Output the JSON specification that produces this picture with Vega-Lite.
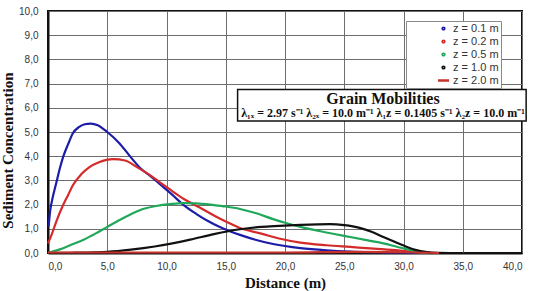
{
  "$schema": "https://vega.github.io/schema/vega-lite/v6.json",
  "width": 474,
  "height": 242,
  "autosize": "none",
  "padding": {"left": 48, "top": 11, "right": 11, "bottom": 38},
  "background": "white",
  "config": {
    "locale": {"number": {"decimal": ",", "thousands": ".", "grouping": [3], "currency": ["", " €"]}},
    "view": {"stroke": "#111", "strokeWidth": 2},
    "axis": {
      "labelFont": "Liberation Sans",
      "labelFontSize": 10,
      "labelColor": "#333",
      "titleFont": "Liberation Serif",
      "titleFontSize": 15,
      "titleFontWeight": "bold",
      "titleColor": "#111",
      "gridColor": "#6e6e6e",
      "gridOpacity": 1,
      "gridWidth": 1,
      "tickColor": "transparent",
      "domainColor": "#111",
      "domainWidth": 2
    }
  },
  "resolve": {"scale": {"x": "independent", "y": "independent"}, "axis": {"x": "independent", "y": "independent"}},
  "datasets": {
    "curves": [
      {"series": "z = 0.1 m", "x": 0.05, "y": 1.1},
      {"series": "z = 0.1 m", "x": 0.2, "y": 1.8},
      {"series": "z = 0.1 m", "x": 0.4, "y": 2.3},
      {"series": "z = 0.1 m", "x": 0.7, "y": 2.9},
      {"series": "z = 0.1 m", "x": 1.0, "y": 3.5},
      {"series": "z = 0.1 m", "x": 1.3, "y": 4.0},
      {"series": "z = 0.1 m", "x": 1.7, "y": 4.5},
      {"series": "z = 0.1 m", "x": 2.1, "y": 4.95},
      {"series": "z = 0.1 m", "x": 2.6, "y": 5.2},
      {"series": "z = 0.1 m", "x": 3.1, "y": 5.32},
      {"series": "z = 0.1 m", "x": 3.6, "y": 5.35},
      {"series": "z = 0.1 m", "x": 4.2, "y": 5.28},
      {"series": "z = 0.1 m", "x": 5.0, "y": 5.0},
      {"series": "z = 0.1 m", "x": 6.0, "y": 4.55},
      {"series": "z = 0.1 m", "x": 7.0, "y": 3.95},
      {"series": "z = 0.1 m", "x": 7.8, "y": 3.5},
      {"series": "z = 0.1 m", "x": 8.6, "y": 3.2},
      {"series": "z = 0.1 m", "x": 9.5, "y": 2.82},
      {"series": "z = 0.1 m", "x": 10.5, "y": 2.4},
      {"series": "z = 0.1 m", "x": 11.4, "y": 2.0},
      {"series": "z = 0.1 m", "x": 12.5, "y": 1.62},
      {"series": "z = 0.1 m", "x": 13.5, "y": 1.32},
      {"series": "z = 0.1 m", "x": 14.5, "y": 1.07},
      {"series": "z = 0.1 m", "x": 15.5, "y": 0.87},
      {"series": "z = 0.1 m", "x": 16.2, "y": 0.75},
      {"series": "z = 0.1 m", "x": 17.5, "y": 0.55},
      {"series": "z = 0.1 m", "x": 19.0, "y": 0.37},
      {"series": "z = 0.1 m", "x": 21.3, "y": 0.2},
      {"series": "z = 0.1 m", "x": 23.5, "y": 0.11},
      {"series": "z = 0.1 m", "x": 25.5, "y": 0.06},
      {"series": "z = 0.1 m", "x": 28.0, "y": 0.03},
      {"series": "z = 0.1 m", "x": 30.0, "y": 0.01},
      {"series": "z = 0.1 m", "x": 32.0, "y": 0.0},
      {"series": "z = 0.2 m", "x": 0.0, "y": 0.4},
      {"series": "z = 0.2 m", "x": 0.3, "y": 0.75},
      {"series": "z = 0.2 m", "x": 0.7, "y": 1.3},
      {"series": "z = 0.2 m", "x": 1.2, "y": 1.9},
      {"series": "z = 0.2 m", "x": 1.7, "y": 2.4},
      {"series": "z = 0.2 m", "x": 2.1, "y": 2.8},
      {"series": "z = 0.2 m", "x": 2.8, "y": 3.25},
      {"series": "z = 0.2 m", "x": 3.5, "y": 3.55},
      {"series": "z = 0.2 m", "x": 4.3, "y": 3.75},
      {"series": "z = 0.2 m", "x": 5.5, "y": 3.88},
      {"series": "z = 0.2 m", "x": 6.5, "y": 3.82},
      {"series": "z = 0.2 m", "x": 7.5, "y": 3.55},
      {"series": "z = 0.2 m", "x": 8.6, "y": 3.22},
      {"series": "z = 0.2 m", "x": 9.5, "y": 2.9},
      {"series": "z = 0.2 m", "x": 10.5, "y": 2.55},
      {"series": "z = 0.2 m", "x": 11.5, "y": 2.22},
      {"series": "z = 0.2 m", "x": 12.8, "y": 1.88},
      {"series": "z = 0.2 m", "x": 14.0, "y": 1.55},
      {"series": "z = 0.2 m", "x": 15.0, "y": 1.3},
      {"series": "z = 0.2 m", "x": 16.2, "y": 1.03},
      {"series": "z = 0.2 m", "x": 18.0, "y": 0.8},
      {"series": "z = 0.2 m", "x": 19.5, "y": 0.6},
      {"series": "z = 0.2 m", "x": 21.3, "y": 0.43},
      {"series": "z = 0.2 m", "x": 23.5, "y": 0.32},
      {"series": "z = 0.2 m", "x": 25.5, "y": 0.25},
      {"series": "z = 0.2 m", "x": 27.5, "y": 0.18},
      {"series": "z = 0.2 m", "x": 29.7, "y": 0.1},
      {"series": "z = 0.2 m", "x": 31.0, "y": 0.04},
      {"series": "z = 0.2 m", "x": 32.0, "y": 0.0},
      {"series": "z = 0.5 m", "x": 0.0, "y": 0.0},
      {"series": "z = 0.5 m", "x": 1.0, "y": 0.15},
      {"series": "z = 0.5 m", "x": 2.0, "y": 0.35},
      {"series": "z = 0.5 m", "x": 3.0, "y": 0.55},
      {"series": "z = 0.5 m", "x": 4.0, "y": 0.8},
      {"series": "z = 0.5 m", "x": 5.0, "y": 1.08},
      {"series": "z = 0.5 m", "x": 6.0, "y": 1.35},
      {"series": "z = 0.5 m", "x": 7.0, "y": 1.6},
      {"series": "z = 0.5 m", "x": 7.8, "y": 1.78},
      {"series": "z = 0.5 m", "x": 9.0, "y": 1.93},
      {"series": "z = 0.5 m", "x": 10.5, "y": 2.03},
      {"series": "z = 0.5 m", "x": 11.5, "y": 2.06},
      {"series": "z = 0.5 m", "x": 12.5, "y": 2.05},
      {"series": "z = 0.5 m", "x": 14.0, "y": 1.98},
      {"series": "z = 0.5 m", "x": 15.0, "y": 1.92},
      {"series": "z = 0.5 m", "x": 16.2, "y": 1.82},
      {"series": "z = 0.5 m", "x": 17.5, "y": 1.65},
      {"series": "z = 0.5 m", "x": 19.0, "y": 1.4},
      {"series": "z = 0.5 m", "x": 20.0, "y": 1.25},
      {"series": "z = 0.5 m", "x": 21.3, "y": 1.08},
      {"series": "z = 0.5 m", "x": 23.0, "y": 0.9},
      {"series": "z = 0.5 m", "x": 25.5, "y": 0.66},
      {"series": "z = 0.5 m", "x": 27.0, "y": 0.52},
      {"series": "z = 0.5 m", "x": 28.3, "y": 0.4},
      {"series": "z = 0.5 m", "x": 29.5, "y": 0.25},
      {"series": "z = 0.5 m", "x": 30.6, "y": 0.12},
      {"series": "z = 0.5 m", "x": 31.6, "y": 0.02},
      {"series": "z = 0.5 m", "x": 32.0, "y": 0.0},
      {"series": "z = 1.0 m", "x": 0.0, "y": 0.0},
      {"series": "z = 1.0 m", "x": 2.0, "y": 0.01},
      {"series": "z = 1.0 m", "x": 4.0, "y": 0.03},
      {"series": "z = 1.0 m", "x": 5.0, "y": 0.05},
      {"series": "z = 1.0 m", "x": 7.0, "y": 0.14},
      {"series": "z = 1.0 m", "x": 9.0, "y": 0.27},
      {"series": "z = 1.0 m", "x": 10.5, "y": 0.4},
      {"series": "z = 1.0 m", "x": 12.0, "y": 0.55},
      {"series": "z = 1.0 m", "x": 14.0, "y": 0.78},
      {"series": "z = 1.0 m", "x": 16.2, "y": 0.98},
      {"series": "z = 1.0 m", "x": 18.0, "y": 1.08},
      {"series": "z = 1.0 m", "x": 19.5, "y": 1.12},
      {"series": "z = 1.0 m", "x": 21.3, "y": 1.16},
      {"series": "z = 1.0 m", "x": 23.8, "y": 1.19},
      {"series": "z = 1.0 m", "x": 25.0, "y": 1.15},
      {"series": "z = 1.0 m", "x": 26.3, "y": 1.04},
      {"series": "z = 1.0 m", "x": 27.3, "y": 0.88},
      {"series": "z = 1.0 m", "x": 28.3, "y": 0.66},
      {"series": "z = 1.0 m", "x": 29.3, "y": 0.45},
      {"series": "z = 1.0 m", "x": 30.3, "y": 0.25},
      {"series": "z = 1.0 m", "x": 31.0, "y": 0.13},
      {"series": "z = 1.0 m", "x": 32.0, "y": 0.04},
      {"series": "z = 1.0 m", "x": 33.0, "y": 0.01},
      {"series": "z = 1.0 m", "x": 35.0, "y": 0.0},
      {"series": "z = 2.0 m", "x": 0.0, "y": 0.02},
      {"series": "z = 2.0 m", "x": 20.0, "y": 0.02},
      {"series": "z = 2.0 m", "x": 26.0, "y": 0.05},
      {"series": "z = 2.0 m", "x": 30.0, "y": 0.03},
      {"series": "z = 2.0 m", "x": 33.0, "y": 0.0}
    ],
    "box": [{"x": 16.0, "x2": 40.35, "y": 5.45, "y2": 6.76}],
    "notes": [
      {"x": 28.27, "y": 6.36, "text": "Grain Mobilities", "kind": "title"},
      {"x": 28.27, "y": 5.78, "text": "λ₁ₓ = 2.97 s⁻¹   λ₂ₓ = 10.0 m⁻¹ λ₁z = 0.1405 s⁻¹ λ₂z = 10.0 m⁻¹", "kind": "body"}
    ]
  },
  "layer": [
    {
      "data": {"name": "curves"},
      "mark": {"type": "line", "strokeWidth": 2.2, "interpolate": "monotone"},
      "encoding": {
        "x": {
          "field": "x", "type": "quantitative",
          "scale": {"domain": [0, 40], "nice": false},
          "axis": {
            "grid": true,
            "values": [0, 5, 10, 15, 20, 25, 30, 35, 40],
            "format": ".1f",
            "labelPadding": 3,
            "title": "Distance (m)",
            "titlePadding": 4
          }
        },
        "y": {
          "field": "y", "type": "quantitative",
          "scale": {"domain": [0, 10], "nice": false},
          "axis": {
            "grid": true,
            "values": [0, 1, 2, 3, 4, 5, 6, 7, 8, 9, 10],
            "format": ".1f",
            "labelPadding": 5,
            "title": "Sediment Concentration",
            "titleX": -33,
            "titleY": 139
          }
        },
        "color": {
          "field": "series", "type": "nominal",
          "scale": {
            "domain": ["z = 0.1 m", "z = 0.2 m", "z = 0.5 m", "z = 1.0 m", "z = 2.0 m"],
            "range": ["#1c1ca8", "#d42a2a", "#1fa85a", "#111111", "#c8302c"]
          },
          "legend": {
            "title": null,
            "orient": "none",
            "legendX": 358,
            "legendY": 10,
            "fillColor": "white",
            "strokeColor": "#8a8a8a",
            "padding": 2,
            "symbolOffset": 30,
            "symbolType": "circle",
            "symbolSize": 121,
            "symbolStrokeWidth": 2.5,
            "labelFont": "Liberation Sans",
            "labelFontSize": 11,
            "labelColor": "#333",
            "rowPadding": 0,
            "encode": {
              "symbols": {
                "update": {
                  "shape": {"signal": "datum.value === 'z = 2.0 m' ? 'stroke' : 'circle'"},
                  "size": {"signal": "datum.value === 'z = 2.0 m' ? 121 : 3"}
                }
              }
            }
          }
        }
      }
    },
    {
      "data": {"name": "box"},
      "mark": {"type": "rect", "fill": "white", "stroke": "#111", "strokeWidth": 1.5, "clip": false},
      "encoding": {
        "x": {"field": "x", "type": "quantitative", "scale": {"domain": [0, 40], "nice": false}, "axis": null},
        "x2": {"field": "x2"},
        "y": {"field": "y", "type": "quantitative", "scale": {"domain": [0, 10], "nice": false}, "axis": null},
        "y2": {"field": "y2"}
      }
    },
    {
      "data": {"name": "notes"},
      "transform": [{"filter": "datum.kind === 'title'"}],
      "mark": {"type": "text", "font": "Liberation Serif", "fontWeight": "bold", "fontSize": 16, "color": "#111", "baseline": "middle", "clip": false},
      "encoding": {
        "x": {"field": "x", "type": "quantitative", "scale": {"domain": [0, 40], "nice": false}, "axis": null},
        "y": {"field": "y", "type": "quantitative", "scale": {"domain": [0, 10], "nice": false}, "axis": null},
        "text": {"field": "text"}
      }
    },
    {
      "data": {"name": "notes"},
      "transform": [{"filter": "datum.kind === 'body'"}],
      "mark": {"type": "text", "font": "Liberation Serif", "fontWeight": "bold", "fontSize": 12, "color": "#111", "baseline": "middle", "clip": false},
      "encoding": {
        "x": {"field": "x", "type": "quantitative", "scale": {"domain": [0, 40], "nice": false}, "axis": null},
        "y": {"field": "y", "type": "quantitative", "scale": {"domain": [0, 10], "nice": false}, "axis": null},
        "text": {"field": "text"}
      }
    }
  ]
}
